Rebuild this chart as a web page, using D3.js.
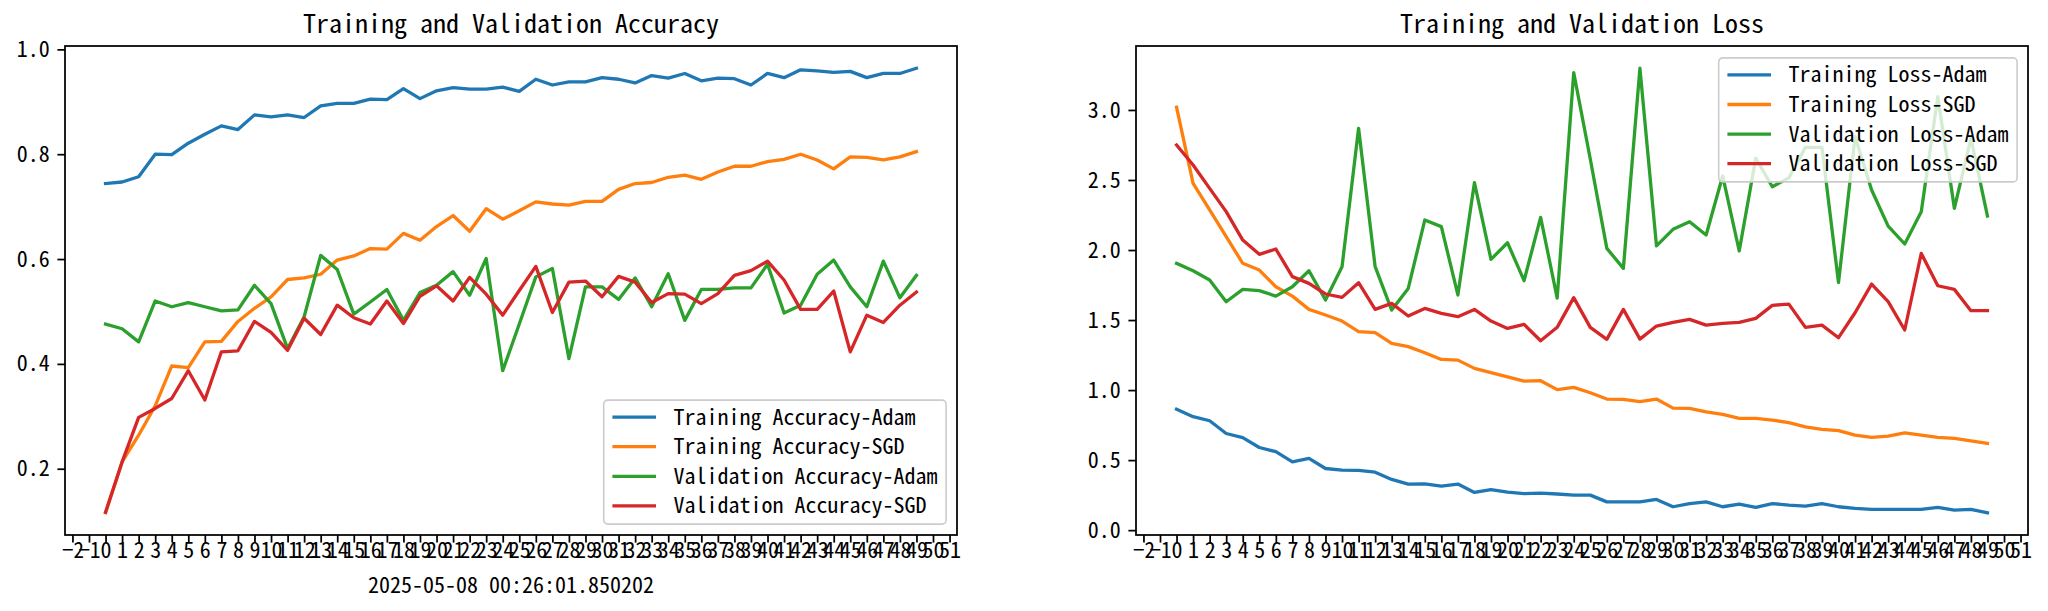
<!DOCTYPE html>
<html>
<head>
<meta charset="utf-8">
<script src="https://cdn.jsdelivr.net/npm/d3@7"></script>
<style>
  body { margin: 0; background: #fff; }
  svg { display: block; }
</style>
</head>
<body>
<svg width="2048" height="611"></svg>
<script>
// epochs 0..49
var epochs = d3.range(50)

var trainAccAdam = [
  0.744, 0.747, 0.757, 0.800, 0.799, 0.821, 0.838, 0.854, 0.847, 0.875,
  0.871, 0.875, 0.870, 0.892, 0.897, 0.897, 0.905, 0.904, 0.925, 0.906,
  0.921, 0.927, 0.924, 0.924, 0.928, 0.920, 0.943, 0.932, 0.938, 0.938,
  0.946, 0.943, 0.936, 0.950, 0.945, 0.954, 0.940, 0.945, 0.944, 0.932,
  0.954, 0.946, 0.961, 0.959, 0.956, 0.958, 0.946, 0.954, 0.954, 0.964
]
var trainAccSGD = [
  0.116, 0.213, 0.264, 0.320, 0.396, 0.393, 0.442, 0.443, 0.481, 0.506,
  0.528, 0.561, 0.564, 0.571, 0.598, 0.606, 0.620, 0.619, 0.649, 0.636,
  0.662, 0.683, 0.653, 0.696, 0.676, 0.692, 0.709, 0.705, 0.703, 0.710,
  0.710, 0.733, 0.744, 0.746, 0.756, 0.760, 0.752, 0.766, 0.777, 0.777,
  0.786, 0.790, 0.800, 0.789, 0.772, 0.795, 0.794, 0.789, 0.795, 0.805
]
var valAccAdam = [
  0.476, 0.467, 0.442, 0.520, 0.509, 0.517, 0.509, 0.501, 0.503, 0.550,
  0.515, 0.429, 0.490, 0.607, 0.580, 0.495, 0.518, 0.542, 0.483, 0.536,
  0.550, 0.576, 0.531, 0.601, 0.387, 0.476, 0.566, 0.582, 0.410, 0.547,
  0.547, 0.523, 0.564, 0.509, 0.572, 0.483, 0.542, 0.542, 0.545, 0.545,
  0.590, 0.497, 0.512, 0.571, 0.598, 0.547, 0.509, 0.596, 0.526, 0.569
]
var valAccSGD = [
  0.117, 0.213, 0.298, 0.315, 0.334, 0.387, 0.331, 0.423, 0.425, 0.481,
  0.460, 0.426, 0.487, 0.456, 0.512, 0.488, 0.476, 0.520, 0.477, 0.529,
  0.549, 0.520, 0.565, 0.533, 0.493, 0.540, 0.586, 0.498, 0.556, 0.558,
  0.528, 0.567, 0.556, 0.517, 0.534, 0.533, 0.515, 0.534, 0.569, 0.578,
  0.596, 0.560, 0.504, 0.504, 0.539, 0.423, 0.493, 0.479, 0.512, 0.537
]

var trainLossAdam = [
  0.864, 0.810, 0.781, 0.690, 0.660, 0.590, 0.560, 0.488, 0.512, 0.440,
  0.429, 0.426, 0.414, 0.362, 0.329, 0.331, 0.314, 0.329, 0.269, 0.290,
  0.271, 0.260, 0.264, 0.258, 0.250, 0.250, 0.202, 0.202, 0.202, 0.219,
  0.167, 0.190, 0.202, 0.167, 0.186, 0.162, 0.190, 0.179, 0.171, 0.190,
  0.167, 0.155, 0.148, 0.148, 0.148, 0.148, 0.162, 0.143, 0.148, 0.124
]
var trainLossSGD = [
  3.020, 2.476, 2.286, 2.095, 1.905, 1.857, 1.738, 1.671, 1.576, 1.536,
  1.493, 1.417, 1.410, 1.333, 1.310, 1.267, 1.219, 1.214, 1.155, 1.124,
  1.095, 1.064, 1.067, 1.003, 1.019, 0.981, 0.936, 0.933, 0.917, 0.936,
  0.871, 0.869, 0.845, 0.826, 0.798, 0.798, 0.786, 0.767, 0.738, 0.719,
  0.710, 0.679, 0.662, 0.672, 0.695, 0.679, 0.662, 0.655, 0.638, 0.619
]
var valLossAdam = [
  1.905, 1.852, 1.786, 1.631, 1.719, 1.710, 1.671, 1.738, 1.852, 1.643,
  1.881, 2.869, 1.881, 1.571, 1.726, 2.214, 2.167, 1.679, 2.481, 1.933,
  2.052, 1.781, 2.233, 1.657, 3.267, 2.650, 2.012, 1.869, 3.298, 2.029,
  2.148, 2.202, 2.107, 2.529, 1.993, 2.655, 2.452, 2.515, 2.733, 2.733,
  1.767, 2.810, 2.429, 2.171, 2.043, 2.274, 3.095, 2.298, 2.798, 2.243
]
var valLossSGD = [
  2.750, 2.607, 2.440, 2.274, 2.071, 1.969, 2.007, 1.810, 1.762, 1.686,
  1.662, 1.767, 1.576, 1.619, 1.529, 1.583, 1.548, 1.524, 1.576, 1.493,
  1.440, 1.469, 1.352, 1.448, 1.660, 1.448, 1.362, 1.576, 1.364, 1.457,
  1.483, 1.505, 1.464, 1.476, 1.483, 1.512, 1.605, 1.614, 1.448, 1.464,
  1.374, 1.552, 1.757, 1.631, 1.429, 1.976, 1.745, 1.719, 1.567, 1.567
]

var accLabels = ['Training Accuracy-Adam', 'Training Accuracy-SGD', 'Validation Accuracy-Adam', 'Validation Accuracy-SGD']
var lossLabels = ['Training Loss-Adam', 'Training Loss-SGD', 'Validation Loss-Adam', 'Validation Loss-SGD']

var xTicks = d3.range(-2, 52)
var accTicks = [0.2, 0.4, 0.6, 0.8, 1.0]
var lossTicks = [0.0, 0.5, 1.0, 1.5, 2.0, 2.5, 3.0]

var timeStamp = '2025-05-08 00:26:01.850202'

var colors = ['#1f77b4', '#ff7f0e', '#2ca02c', '#d62728']

var FONT = '"Noto Sans Mono CJK SC", "DejaVu Sans Mono", monospace'
var svg = d3.select('svg')

// text in the original is half-width monospace (0.5em per char) - squeeze to that
function fitText(sel, size) {
  sel.each(function() {
    var n = this.textContent.length
    var target = n * size * 0.5
    var w = this.getComputedTextLength()
    if (Math.abs(w - target) > 0.5) {
      d3.select(this).attr('textLength', target).attr('lengthAdjust', 'spacingAndGlyphs')
    }
  })
}

function drawPanel(o) {
  var top = 46, bottom = 535
  var g = svg.append('g')

  var all = [].concat.apply([], o.series)
  var lo = d3.min(all), hi = d3.max(all), pad = (hi - lo) * 0.05

  var x = d3.scaleLinear().domain([-2.45, 51.45]).range([o.left, o.right])
  var y = d3.scaleLinear().domain([lo - pad, hi + pad]).range([bottom, top])

  // lines
  var line = d3.line().x((d, i) => x(epochs[i])).y(d => y(d))
  o.series.forEach((s, k) => {
    g.append('path')
      .attr('d', line(s))
      .attr('fill', 'none')
      .attr('stroke', colors[k])
      .attr('stroke-width', 3.3)
      .attr('stroke-linejoin', 'round')
      .attr('stroke-linecap', 'square')
  })

  // axes
  var xAxis = g.append('g')
    .attr('transform', 'translate(0,' + bottom + ')')
    .call(d3.axisBottom(x).tickValues(xTicks).tickSize(7.6).tickPadding(0))
  var yAxis = g.append('g')
    .attr('transform', 'translate(' + o.left + ',0)')
    .call(d3.axisLeft(y).tickValues(o.yTicks).tickSize(7.6).tickPadding(7.6).tickFormat(d3.format('.1f')))

  ;[xAxis, yAxis].forEach(a => {
    a.select('.domain').remove()
    a.selectAll('line').attr('stroke', '#000').attr('stroke-width', 1.75)
    a.selectAll('text')
      .attr('fill', '#000')
      .style('font-family', FONT)
      .style('font-size', '22px')
      .call(fitText, 22)
  })

  // spines
  g.append('rect')
    .attr('x', o.left).attr('y', top)
    .attr('width', o.right - o.left).attr('height', bottom - top)
    .attr('fill', 'none').attr('stroke', '#000').attr('stroke-width', 1.75)

  // title
  g.append('text')
    .attr('x', (o.left + o.right) / 2).attr('y', 33)
    .attr('text-anchor', 'middle')
    .style('font-family', FONT).style('font-size', '26px')
    .text(o.title)
    .call(fitText, 26)

  // legend
  var fs = 22
  var longest = d3.max(o.labels, d => d.length)
  var lw = 8.7 + 43.6 + 17.4 + longest * fs * 0.5 + 8.7
  var lh = 124
  var lx = o.right - 10.9 - lw
  var ly = o.legendPos === 'lower' ? bottom - 10.9 - lh : top + 10.9 + 1
  var leg = g.append('g').attr('transform', 'translate(' + lx + ',' + ly + ')')
  leg.append('rect')
    .attr('width', lw).attr('height', lh).attr('rx', 4)
    .attr('fill', 'rgba(255,255,255,0.8)')
    .attr('stroke', '#cccccc').attr('stroke-width', 1.6)
  o.labels.forEach((lab, k) => {
    var cy = 17 + k * 29.6
    leg.append('line')
      .attr('x1', 8.7).attr('x2', 8.7 + 43.6)
      .attr('y1', cy).attr('y2', cy)
      .attr('stroke', colors[k]).attr('stroke-width', 3.3)
    leg.append('text')
      .attr('x', 8.7 + 43.6 + 17.4).attr('y', cy + 7.5)
      .style('font-family', FONT).style('font-size', fs + 'px')
      .text(lab)
      .call(fitText, fs)
  })

  if (o.xlabel) {
    g.append('text')
      .attr('x', (o.left + o.right) / 2).attr('y', 593)
      .attr('text-anchor', 'middle')
      .style('font-family', FONT).style('font-size', '22px')
      .text(o.xlabel)
      .call(fitText, 22)
  }
}

drawPanel({
  left: 65, right: 957,
  series: [trainAccAdam, trainAccSGD, valAccAdam, valAccSGD],
  labels: accLabels,
  yTicks: accTicks,
  title: 'Training and Validation Accuracy',
  legendPos: 'lower',
  xlabel: timeStamp
})

drawPanel({
  left: 1136, right: 2028,
  series: [trainLossAdam, trainLossSGD, valLossAdam, valLossSGD],
  labels: lossLabels,
  yTicks: lossTicks,
  title: 'Training and Validation Loss',
  legendPos: 'upper'
})
</script>
</body>
</html>
